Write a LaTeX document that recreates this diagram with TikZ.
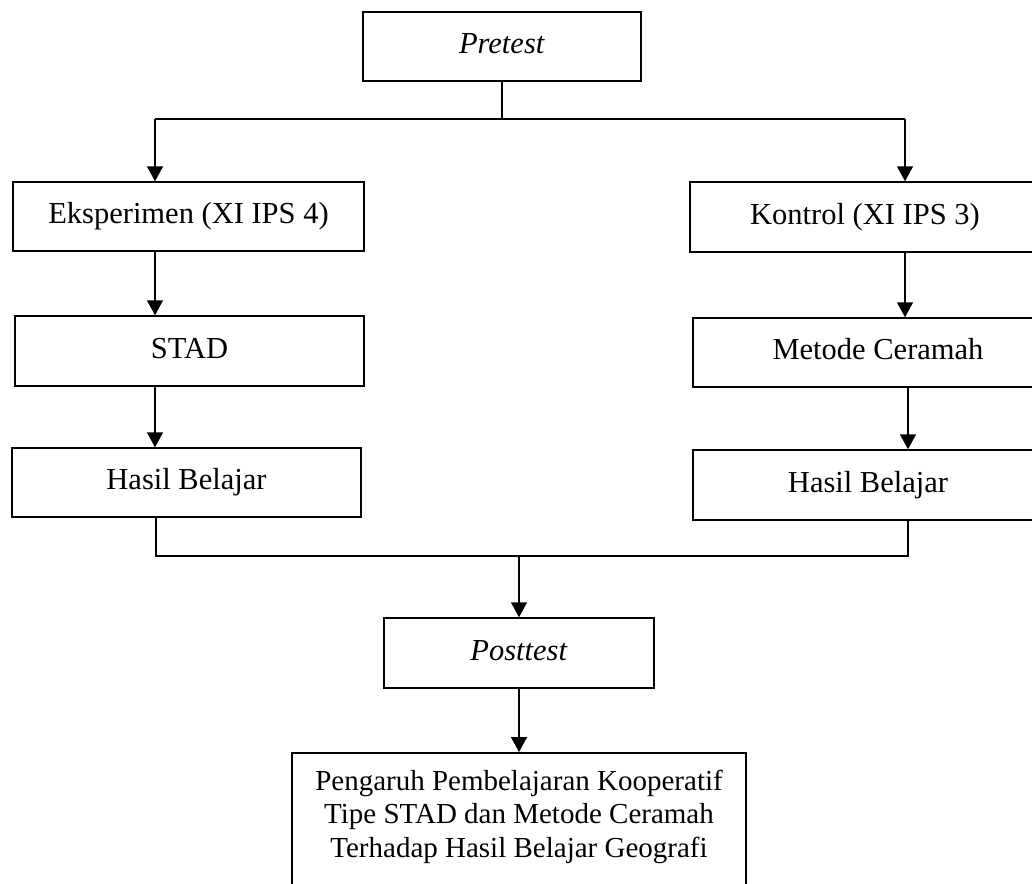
\documentclass[tikz,border=0pt]{standalone}
\usepackage{fontspec}
\setmainfont{Liberation Serif}
\usetikzlibrary{arrows.meta}
\begin{document}
\begin{tikzpicture}[x=1pt,y=-1pt,
  box/.style={draw,line width=1.5pt,inner sep=0pt,font=\fontsize{30.5pt}{33.5pt}\selectfont,
    text height=21pt,text depth=6.7pt},
  conn/.style={line width=1.5pt},
  arr/.style={conn,-{Triangle[length=15pt,width=16pt]}}]
\useasboundingbox (0,0) rectangle (1032,883);
\clip (0,0) rectangle (1032,883);
% nodes
\node[box,minimum width=278pt,minimum height=69pt] (pre) at (502,46.5) {\textit{Pretest}};
\node[box,minimum width=351pt,minimum height=69pt] (eks) at (188.5,216.5) {Eksperimen (XI IPS 4)};
\node[box,minimum width=349pt,minimum height=70pt] (stad) at (189.5,351) {STAD};
\node[box,minimum width=349pt,minimum height=69pt] (hasL) at (186.5,482.5) {Hasil Belajar};
\node[box,minimum width=350pt,minimum height=70pt] (kon) at (865,217) {Kontrol (XI IPS 3)};
\node[box,minimum width=370pt,minimum height=69pt] (met) at (878,352.5) {Metode Ceramah};
\node[box,minimum width=350pt,minimum height=70pt] (hasR) at (868,485) {Hasil Belajar};
\node[box,minimum width=270pt,minimum height=70pt] (post) at (519,653) {\textit{Posttest}};
\node[draw,line width=1.5pt,anchor=north,inner xsep=0pt,inner ysep=17pt,minimum width=454pt,
  align=center,font=\fontsize{29pt}{33.5pt}\selectfont,text depth=45pt] (fin) at (519,752)
  {Pengaruh Pembelajaran Kooperatif\\Tipe STAD dan Metode Ceramah\\Terhadap Hasil Belajar Geografi};
% junction coordinates
\coordinate (aL) at (155,119);
\coordinate (aR) at (905,119);
\coordinate (bL) at (156,556);
\coordinate (bR) at (908,556);
% connectors
\draw[conn] (pre.south) -- (pre.south |- aL);
\draw[conn] (aL) -- (aR);
\draw[arr] (aL) -- (aL |- eks.north);
\draw[arr] (aR) -- (aR |- kon.north);
\draw[arr] (eks.south -| aL) -- (stad.north -| aL);
\draw[arr] (stad.south -| aL) -- (hasL.north -| aL);
\draw[arr] (kon.south -| aR) -- (met.north -| aR);
\draw[arr] (met.south -| bR) -- (hasR.north -| bR);
\draw[conn] (hasL.south -| bL) -- (bL) -- (bR) -- (hasR.south -| bR);
\draw[arr] (post.north |- bL) -- (post.north);
\draw[arr] (post.south) -- (fin.north);
\end{tikzpicture}
\end{document}
